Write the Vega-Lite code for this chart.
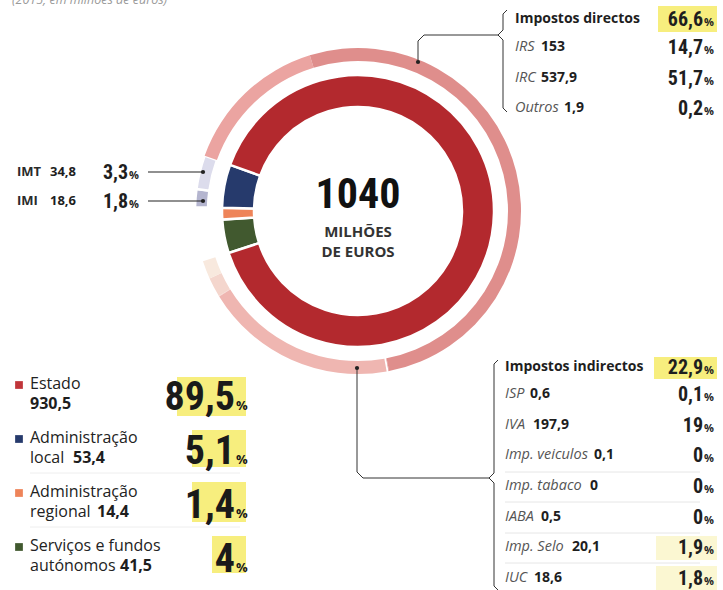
{
"$schema": "https://vega.github.io/schema/vega-lite/v6.json",
"width": 716,
"height": 422,
"autosize": {"type": "none"},
"padding": {"left": 0, "top": 0, "right": 7, "bottom": 168},
"background": "#ffffff",
"config": {"view": {"stroke": null}, "font": "Open Sans", "locale": {"number": {"decimal": ",", "thousands": ".", "grouping": [3], "currency": ["", " €"]}}},
"datasets": {
  "sectors": [
    {"k": 1, "sector": "Serviços e fundos autónomos", "line1": "Serviços e fundos", "line2": "autónomos", "value": 41.5, "pct": 4},
    {"k": 2, "sector": "Administração regional", "line1": "Administração", "line2": "regional", "value": 14.4, "pct": 1.4},
    {"k": 3, "sector": "Administração local", "line1": "Administração", "line2": "local", "value": 53.4, "pct": 5.1},
    {"k": 4, "sector": "Estado", "line1": "Estado", "line2": "", "value": 930.5, "pct": 89.5}
  ],
  "taxes": [
    {"k": 1, "tax": "Outras entidades", "group": "sem impostos", "value": 55.9, "pct": 5.4},
    {"k": 2, "tax": "IMI", "group": "local", "value": 18.6, "pct": 1.8},
    {"k": 3, "tax": "IMT", "group": "local", "value": 34.8, "pct": 3.3},
    {"k": 4, "tax": "IRS", "group": "Impostos directos", "value": 153, "pct": 14.7},
    {"k": 5, "tax": "IRC", "group": "Impostos directos", "value": 537.9, "pct": 51.7},
    {"k": 6, "tax": "Outros", "group": "Impostos directos", "value": 1.9, "pct": 0.2},
    {"k": 7, "tax": "ISP", "group": "Impostos indirectos", "value": 0.6, "pct": 0.1},
    {"k": 8, "tax": "IVA", "group": "Impostos indirectos", "value": 197.9, "pct": 19},
    {"k": 9, "tax": "Imp. veiculos", "group": "Impostos indirectos", "value": 0.1, "pct": 0},
    {"k": 10, "tax": "Imp. tabaco", "group": "Impostos indirectos", "value": 0, "pct": 0},
    {"k": 11, "tax": "IABA", "group": "Impostos indirectos", "value": 0.5, "pct": 0},
    {"k": 12, "tax": "Imp. Selo", "group": "Impostos indirectos", "value": 20.1, "pct": 1.9},
    {"k": 13, "tax": "IUC", "group": "Impostos indirectos", "value": 18.6, "pct": 1.8}
  ],
  "groups": [
    {"group": "Impostos directos", "pct": 66.6},
    {"group": "Impostos indirectos", "pct": 22.9}
  ]
},
"resolve": {"scale": {"x": "independent", "y": "independent", "theta": "independent", "color": "independent", "strokeWidth": "independent"}},
"layer": [
  {
    "data": {"values": [{}]},
    "layer": [
      {"mark": {"type": "rect", "color": "#f7ee7e"}, "encoding": {"x": {"value": 658}, "x2": {"value": 717}, "y": {"value": 6}, "y2": {"value": 32}}},
      {"mark": {"type": "rect", "color": "#f7ee7e"}, "encoding": {"x": {"value": 654}, "x2": {"value": 717}, "y": {"value": 357}, "y2": {"value": 379}}},
      {"mark": {"type": "rect", "color": "#fbf7d2"}, "encoding": {"x": {"value": 656}, "x2": {"value": 717}, "y": {"value": 536}, "y2": {"value": 560}}},
      {"mark": {"type": "rect", "color": "#fbf7d2"}, "encoding": {"x": {"value": 656}, "x2": {"value": 717}, "y": {"value": 566}, "y2": {"value": 590}}},
      {"mark": {"type": "rect", "color": "#f7ee7e"}, "encoding": {"x": {"value": 177}, "x2": {"value": 246}, "y": {"value": 377}, "y2": {"value": 416}}},
      {"mark": {"type": "rect", "color": "#f7ee7e"}, "encoding": {"x": {"value": 192}, "x2": {"value": 246}, "y": {"value": 430}, "y2": {"value": 467}}},
      {"mark": {"type": "rect", "color": "#f7ee7e"}, "encoding": {"x": {"value": 192}, "x2": {"value": 246}, "y": {"value": 482}, "y2": {"value": 522}}},
      {"mark": {"type": "rect", "color": "#f7ee7e"}, "encoding": {"x": {"value": 212}, "x2": {"value": 246}, "y": {"value": 536}, "y2": {"value": 573}}},
      {"mark": {"type": "rule", "color": "#e6e6e6", "strokeWidth": 1}, "encoding": {"x": {"value": 505}, "x2": {"value": 700}, "y": {"value": 472}, "y2": {"value": 472}}},
      {"mark": {"type": "rule", "color": "#e6e6e6", "strokeWidth": 1}, "encoding": {"x": {"value": 505}, "x2": {"value": 700}, "y": {"value": 502}, "y2": {"value": 502}}},
      {"mark": {"type": "rule", "color": "#e6e6e6", "strokeWidth": 1}, "encoding": {"x": {"value": 505}, "x2": {"value": 700}, "y": {"value": 533}, "y2": {"value": 533}}},
      {"mark": {"type": "rule", "color": "#e6e6e6", "strokeWidth": 1}, "encoding": {"x": {"value": 505}, "x2": {"value": 700}, "y": {"value": 563}, "y2": {"value": 563}}},
      {"mark": {"type": "rule", "color": "#eeeeee", "strokeWidth": 1}, "encoding": {"x": {"value": 30}, "x2": {"value": 240}, "y": {"value": 473}, "y2": {"value": 473}}},
      {"mark": {"type": "rule", "color": "#eeeeee", "strokeWidth": 1}, "encoding": {"x": {"value": 30}, "x2": {"value": 240}, "y": {"value": 527}, "y2": {"value": 527}}}
    ]
  },
  {
    "data": {"name": "sectors"},
    "mark": {"type": "arc", "innerRadius": 104, "outerRadius": 136, "stroke": "#ffffff", "strokeWidth": 2.5},
    "encoding": {
      "theta": {"field": "value", "type": "quantitative", "stack": true, "scale": {"range": [4.3982, 10.6814]}},
      "order": {"field": "k", "type": "quantitative"},
      "color": {"field": "sector", "type": "nominal", "legend": null, "scale": {"domain": ["Serviços e fundos autónomos", "Administração regional", "Administração local", "Estado"], "range": ["#41592f", "#ee8459", "#263a6c", "#b3292e"]}}
    }
  },
  {
    "data": {"name": "taxes"},
    "mark": {"type": "arc", "innerRadius": 150, "outerRadius": 163, "stroke": "#ffffff"},
    "encoding": {
      "theta": {"field": "value", "type": "quantitative", "stack": true, "scale": {"range": [4.3982, 10.6814]}},
      "order": {"field": "k", "type": "quantitative"},
      "strokeWidth": {"condition": {"test": "datum.group === 'local' || datum.tax === 'ISP'", "value": 2.5}, "value": 0},
      "color": {"field": "tax", "type": "nominal", "legend": null, "scale": {
        "domain": ["Outras entidades", "IMI", "IMT", "IRS", "IRC", "Outros", "ISP", "IVA", "Imp. veiculos", "Imp. tabaco", "IABA", "Imp. Selo", "IUC"],
        "range": ["rgba(255,255,255,0)", "#b4b5cf", "#dcdcec", "#eba4a1", "#df8e8c", "#df8e8c", "#efb6b1", "#efb6b1", "#f1c4be", "#f1c4be", "#f1c4be", "#f4d6cd", "#f8e9de"]}}
    }
  },
  {
    "data": {"name": "sectors"},
    "transform": [{"aggregate": [{"op": "sum", "field": "value", "as": "total"}]}],
    "mark": {"type": "text", "font": "Noto Sans ExtraCondensed, Noto Sans Condensed, Roboto Condensed, Open Sans Condensed, Liberation Sans Narrow, DejaVu Sans Condensed", "fontWeight": "bold", "fontSize": 42, "color": "#111111", "baseline": "alphabetic", "dy": -3},
    "encoding": {"text": {"field": "total", "type": "quantitative", "format": ".0f"}}
  },
  {
    "data": {"values": [{}]},
    "mark": {"type": "text", "text": ["MILHÕES", "DE EUROS"], "fontSize": 15, "fontWeight": "bold", "color": "#333333", "lineHeight": 20, "baseline": "middle", "dy": 21}
  },
  {
    "data": {"values": [{}]},
    "mark": {"type": "text", "text": "(2015, em milhões de euros)", "x": 12, "y": 4, "align": "left", "baseline": "alphabetic", "fontStyle": "italic", "fontSize": 12.5, "color": "#9a9a9a"}
  },
  {
    "data": {"name": "taxes"},
    "transform": [{"filter": "datum.group === 'local'"}],
    "encoding": {"y": {"field": "tax", "type": "nominal", "scale": {"type": "point", "domain": ["IMT", "IMI"], "range": [172, 201], "padding": 0}, "axis": null}},
    "layer": [
      {"mark": {"type": "text", "x": 17, "align": "left", "baseline": "middle", "fontWeight": "bold", "fontSize": 13, "color": "#2a2a2a"}, "encoding": {"text": {"field": "tax", "type": "nominal"}}},
      {"mark": {"type": "text", "x": 50, "align": "left", "baseline": "middle", "fontWeight": "bold", "fontSize": 13, "color": "#1e1e1e"}, "encoding": {"text": {"field": "value", "type": "quantitative", "format": ".1~f"}}},
      {"mark": {"type": "text", "x": 128, "align": "right", "baseline": "alphabetic", "dy": 7, "font": "Noto Sans ExtraCondensed, Noto Sans Condensed, Roboto Condensed, Open Sans Condensed, Liberation Sans Narrow, DejaVu Sans Condensed", "fontWeight": "bold", "fontSize": 20, "color": "#1e1e1e"}, "encoding": {"text": {"field": "pct", "type": "quantitative", "format": ".1~f"}}},
      {"mark": {"type": "text", "x": 129, "align": "left", "baseline": "alphabetic", "dy": 7, "fontWeight": "bold", "fontSize": 11, "text": "%", "color": "#1e1e1e"}},
      {"mark": {"type": "rule", "color": "#222222", "strokeWidth": 1.2}, "encoding": {"x": {"value": 148}, "x2": {"value": 202}}},
      {"mark": {"type": "point", "filled": true, "opacity": 1, "size": 18, "color": "#222222", "x": 203}}
    ]
  },
  {
    "data": {"name": "groups"},
    "transform": [{"filter": "datum.group === 'Impostos directos'"}],
    "layer": [
      {"mark": {"type": "text", "x": 515, "y": 19, "align": "left", "baseline": "middle", "fontWeight": "bold", "fontSize": 14, "color": "#1e1e1e"}, "encoding": {"text": {"field": "group", "type": "nominal"}}},
      {"mark": {"type": "text", "x": 703, "y": 26, "align": "right", "baseline": "alphabetic", "font": "Noto Sans ExtraCondensed, Noto Sans Condensed, Roboto Condensed, Open Sans Condensed, Liberation Sans Narrow, DejaVu Sans Condensed", "fontWeight": "bold", "fontSize": 20, "color": "#1e1e1e"}, "encoding": {"text": {"field": "pct", "type": "quantitative", "format": ".1~f"}}},
      {"mark": {"type": "text", "x": 704, "y": 26, "align": "left", "baseline": "alphabetic", "fontWeight": "bold", "fontSize": 11, "text": "%", "color": "#1e1e1e"}}
    ]
  },
  {
    "data": {"name": "taxes"},
    "transform": [{"filter": "datum.group === 'Impostos directos'"}],
    "encoding": {"y": {"field": "tax", "type": "nominal", "scale": {"type": "point", "domain": ["IRS", "IRC", "Outros"], "range": [47, 108], "padding": 0}, "axis": null}},
    "layer": [
      {"mark": {"type": "text", "x": 515, "align": "left", "baseline": "middle", "fontStyle": "italic", "fontSize": 14.5, "color": "#555555"}, "encoding": {"text": {"field": "tax", "type": "nominal"}}},
      {"transform": [{"filter": "datum.tax !== 'Outros'"}], "mark": {"type": "text", "x": 541, "align": "left", "baseline": "middle", "fontWeight": "bold", "fontSize": 14, "color": "#1e1e1e"}, "encoding": {"text": {"field": "value", "type": "quantitative", "format": ".1~f"}}},
      {"transform": [{"filter": "datum.tax === 'Outros'"}], "mark": {"type": "text", "x": 564, "align": "left", "baseline": "middle", "fontWeight": "bold", "fontSize": 14, "color": "#1e1e1e"}, "encoding": {"text": {"field": "value", "type": "quantitative", "format": ".1~f"}}},
      {"mark": {"type": "text", "x": 703, "align": "right", "baseline": "alphabetic", "dy": 7, "font": "Noto Sans ExtraCondensed, Noto Sans Condensed, Roboto Condensed, Open Sans Condensed, Liberation Sans Narrow, DejaVu Sans Condensed", "fontWeight": "bold", "fontSize": 20, "color": "#1e1e1e"}, "encoding": {"text": {"field": "pct", "type": "quantitative", "format": ".1~f"}}},
      {"mark": {"type": "text", "x": 704, "align": "left", "baseline": "alphabetic", "dy": 7, "fontWeight": "bold", "fontSize": 11, "text": "%", "color": "#1e1e1e"}}
    ]
  },
  {
    "data": {"name": "groups"},
    "transform": [{"filter": "datum.group === 'Impostos indirectos'"}],
    "layer": [
      {"mark": {"type": "text", "x": 505, "y": 367, "align": "left", "baseline": "middle", "fontWeight": "bold", "fontSize": 14, "color": "#1e1e1e"}, "encoding": {"text": {"field": "group", "type": "nominal"}}},
      {"mark": {"type": "text", "x": 703, "y": 374, "align": "right", "baseline": "alphabetic", "font": "Noto Sans ExtraCondensed, Noto Sans Condensed, Roboto Condensed, Open Sans Condensed, Liberation Sans Narrow, DejaVu Sans Condensed", "fontWeight": "bold", "fontSize": 20, "color": "#1e1e1e"}, "encoding": {"text": {"field": "pct", "type": "quantitative", "format": ".1~f"}}},
      {"mark": {"type": "text", "x": 704, "y": 374, "align": "left", "baseline": "alphabetic", "fontWeight": "bold", "fontSize": 11, "text": "%", "color": "#1e1e1e"}}
    ]
  },
  {
    "data": {"name": "taxes"},
    "transform": [{"filter": "datum.group === 'Impostos indirectos'"}],
    "encoding": {"y": {"field": "tax", "type": "nominal", "scale": {"type": "point", "domain": ["ISP", "IVA", "Imp. veiculos", "Imp. tabaco", "IABA", "Imp. Selo", "IUC"], "range": [394, 578], "padding": 0}, "axis": null}},
    "layer": [
      {"mark": {"type": "text", "x": 505, "align": "left", "baseline": "middle", "fontStyle": "italic", "fontSize": 14.5, "color": "#555555"}, "encoding": {"text": {"field": "tax", "type": "nominal"}}},
      {"transform": [{"filter": "datum.tax === 'ISP'"}], "mark": {"type": "text", "x": 530, "align": "left", "baseline": "middle", "fontWeight": "bold", "fontSize": 14, "color": "#1e1e1e"}, "encoding": {"text": {"field": "value", "type": "quantitative", "format": ".1~f"}}},
      {"transform": [{"filter": "datum.tax === 'IVA'"}], "mark": {"type": "text", "x": 533, "align": "left", "baseline": "middle", "fontWeight": "bold", "fontSize": 14, "color": "#1e1e1e"}, "encoding": {"text": {"field": "value", "type": "quantitative", "format": ".1~f"}}},
      {"transform": [{"filter": "datum.tax === 'Imp. veiculos'"}], "mark": {"type": "text", "x": 594, "align": "left", "baseline": "middle", "fontWeight": "bold", "fontSize": 14, "color": "#1e1e1e"}, "encoding": {"text": {"field": "value", "type": "quantitative", "format": ".1~f"}}},
      {"transform": [{"filter": "datum.tax === 'Imp. tabaco'"}], "mark": {"type": "text", "x": 590, "align": "left", "baseline": "middle", "fontWeight": "bold", "fontSize": 14, "color": "#1e1e1e"}, "encoding": {"text": {"field": "value", "type": "quantitative", "format": ".1~f"}}},
      {"transform": [{"filter": "datum.tax === 'IABA'"}], "mark": {"type": "text", "x": 541, "align": "left", "baseline": "middle", "fontWeight": "bold", "fontSize": 14, "color": "#1e1e1e"}, "encoding": {"text": {"field": "value", "type": "quantitative", "format": ".1~f"}}},
      {"transform": [{"filter": "datum.tax === 'Imp. Selo'"}], "mark": {"type": "text", "x": 572, "align": "left", "baseline": "middle", "fontWeight": "bold", "fontSize": 14, "color": "#1e1e1e"}, "encoding": {"text": {"field": "value", "type": "quantitative", "format": ".1~f"}}},
      {"transform": [{"filter": "datum.tax === 'IUC'"}], "mark": {"type": "text", "x": 534, "align": "left", "baseline": "middle", "fontWeight": "bold", "fontSize": 14, "color": "#1e1e1e"}, "encoding": {"text": {"field": "value", "type": "quantitative", "format": ".1~f"}}},
      {"mark": {"type": "text", "x": 703, "align": "right", "baseline": "alphabetic", "dy": 7, "font": "Noto Sans ExtraCondensed, Noto Sans Condensed, Roboto Condensed, Open Sans Condensed, Liberation Sans Narrow, DejaVu Sans Condensed", "fontWeight": "bold", "fontSize": 20, "color": "#1e1e1e"}, "encoding": {"text": {"field": "pct", "type": "quantitative", "format": ".1~f"}}},
      {"mark": {"type": "text", "x": 704, "align": "left", "baseline": "alphabetic", "dy": 7, "fontWeight": "bold", "fontSize": 11, "text": "%", "color": "#1e1e1e"}}
    ]
  },
  {
    "data": {"name": "sectors"},
    "encoding": {"y": {"field": "sector", "type": "nominal", "scale": {"type": "point", "domain": ["Estado", "Administração local", "Administração regional", "Serviços e fundos autónomos"], "range": [385, 547], "padding": 0}, "axis": null}},
    "layer": [
      {"mark": {"type": "point", "shape": "square", "filled": true, "opacity": 1, "size": 60, "x": 19}, "encoding": {"color": {"field": "sector", "type": "nominal", "legend": null, "scale": {"domain": ["Serviços e fundos autónomos", "Administração regional", "Administração local", "Estado"], "range": ["#41592f", "#ee8459", "#263a6c", "#c0353a"]}}}},
      {"mark": {"type": "text", "x": 30, "align": "left", "baseline": "middle", "dy": -1, "fontSize": 16, "color": "#222222"}, "encoding": {"text": {"field": "line1", "type": "nominal"}}},
      {"mark": {"type": "text", "x": 30, "align": "left", "baseline": "middle", "dy": 19, "fontSize": 16, "color": "#222222"}, "encoding": {"text": {"field": "line2", "type": "nominal"}}},
      {"transform": [{"filter": "datum.sector === 'Estado'"}], "mark": {"type": "text", "x": 30, "align": "left", "baseline": "middle", "dy": 19, "fontWeight": "bold", "fontSize": 16, "color": "#1e1e1e"}, "encoding": {"text": {"field": "value", "type": "quantitative", "format": ".1~f"}}},
      {"transform": [{"filter": "datum.sector === 'Administração local'"}], "mark": {"type": "text", "x": 73, "align": "left", "baseline": "middle", "dy": 19, "fontWeight": "bold", "fontSize": 16, "color": "#1e1e1e"}, "encoding": {"text": {"field": "value", "type": "quantitative", "format": ".1~f"}}},
      {"transform": [{"filter": "datum.sector === 'Administração regional'"}], "mark": {"type": "text", "x": 97, "align": "left", "baseline": "middle", "dy": 19, "fontWeight": "bold", "fontSize": 16, "color": "#1e1e1e"}, "encoding": {"text": {"field": "value", "type": "quantitative", "format": ".1~f"}}},
      {"transform": [{"filter": "datum.sector === 'Serviços e fundos autónomos'"}], "mark": {"type": "text", "x": 120, "align": "left", "baseline": "middle", "dy": 19, "fontWeight": "bold", "fontSize": 16, "color": "#1e1e1e"}, "encoding": {"text": {"field": "value", "type": "quantitative", "format": ".1~f"}}},
      {"mark": {"type": "text", "x": 235, "align": "right", "baseline": "alphabetic", "dy": 25, "font": "Noto Sans ExtraCondensed, Noto Sans Condensed, Roboto Condensed, Open Sans Condensed, Liberation Sans Narrow, DejaVu Sans Condensed", "fontWeight": "bold", "fontSize": 40, "color": "#1a1a1a"}, "encoding": {"text": {"field": "pct", "type": "quantitative", "format": ".1~f"}}},
      {"mark": {"type": "text", "x": 236, "align": "left", "baseline": "alphabetic", "dy": 25, "fontWeight": "bold", "fontSize": 13, "text": "%", "color": "#1a1a1a"}}
    ]
  },
  {
    "data": {"values": [{}]},
    "layer": [
      {"mark": {"type": "rule", "color": "#333333", "strokeWidth": 1}, "encoding": {"x": {"value": 418}, "x2": {"value": 418}, "y": {"value": 62}, "y2": {"value": 41}}},
      {"mark": {"type": "rule", "color": "#333333", "strokeWidth": 1}, "encoding": {"x": {"value": 418}, "x2": {"value": 424}, "y": {"value": 41}, "y2": {"value": 35}}},
      {"mark": {"type": "rule", "color": "#333333", "strokeWidth": 1}, "encoding": {"x": {"value": 424}, "x2": {"value": 498}, "y": {"value": 35}, "y2": {"value": 35}}},
      {"mark": {"type": "rule", "color": "#333333", "strokeWidth": 1}, "encoding": {"x": {"value": 498}, "x2": {"value": 503}, "y": {"value": 35}, "y2": {"value": 30}}},
      {"mark": {"type": "rule", "color": "#333333", "strokeWidth": 1}, "encoding": {"x": {"value": 503}, "x2": {"value": 503}, "y": {"value": 30}, "y2": {"value": 14}}},
      {"mark": {"type": "rule", "color": "#333333", "strokeWidth": 1}, "encoding": {"x": {"value": 503}, "x2": {"value": 507}, "y": {"value": 14}, "y2": {"value": 10}}},
      {"mark": {"type": "rule", "color": "#333333", "strokeWidth": 1}, "encoding": {"x": {"value": 498}, "x2": {"value": 503}, "y": {"value": 35}, "y2": {"value": 40}}},
      {"mark": {"type": "rule", "color": "#333333", "strokeWidth": 1}, "encoding": {"x": {"value": 503}, "x2": {"value": 503}, "y": {"value": 40}, "y2": {"value": 108}}},
      {"mark": {"type": "rule", "color": "#333333", "strokeWidth": 1}, "encoding": {"x": {"value": 503}, "x2": {"value": 507}, "y": {"value": 108}, "y2": {"value": 112}}},
      {"mark": {"type": "rule", "color": "#333333", "strokeWidth": 1}, "encoding": {"x": {"value": 357}, "x2": {"value": 357}, "y": {"value": 368}, "y2": {"value": 472}}},
      {"mark": {"type": "rule", "color": "#333333", "strokeWidth": 1}, "encoding": {"x": {"value": 357}, "x2": {"value": 363}, "y": {"value": 472}, "y2": {"value": 478}}},
      {"mark": {"type": "rule", "color": "#333333", "strokeWidth": 1}, "encoding": {"x": {"value": 363}, "x2": {"value": 489}, "y": {"value": 478}, "y2": {"value": 478}}},
      {"mark": {"type": "rule", "color": "#333333", "strokeWidth": 1}, "encoding": {"x": {"value": 489}, "x2": {"value": 494}, "y": {"value": 478}, "y2": {"value": 473}}},
      {"mark": {"type": "rule", "color": "#333333", "strokeWidth": 1}, "encoding": {"x": {"value": 494}, "x2": {"value": 494}, "y": {"value": 473}, "y2": {"value": 364}}},
      {"mark": {"type": "rule", "color": "#333333", "strokeWidth": 1}, "encoding": {"x": {"value": 494}, "x2": {"value": 498}, "y": {"value": 364}, "y2": {"value": 360}}},
      {"mark": {"type": "rule", "color": "#333333", "strokeWidth": 1}, "encoding": {"x": {"value": 489}, "x2": {"value": 494}, "y": {"value": 478}, "y2": {"value": 483}}},
      {"mark": {"type": "rule", "color": "#333333", "strokeWidth": 1}, "encoding": {"x": {"value": 494}, "x2": {"value": 494}, "y": {"value": 483}, "y2": {"value": 586}}},
      {"mark": {"type": "rule", "color": "#333333", "strokeWidth": 1}, "encoding": {"x": {"value": 494}, "x2": {"value": 498}, "y": {"value": 586}, "y2": {"value": 590}}},
      {"mark": {"type": "point", "filled": true, "opacity": 1, "size": 18, "color": "#222222", "x": 418, "y": 62}},
      {"mark": {"type": "point", "filled": true, "opacity": 1, "size": 18, "color": "#222222", "x": 357, "y": 368}}
    ]
  }
]
}
